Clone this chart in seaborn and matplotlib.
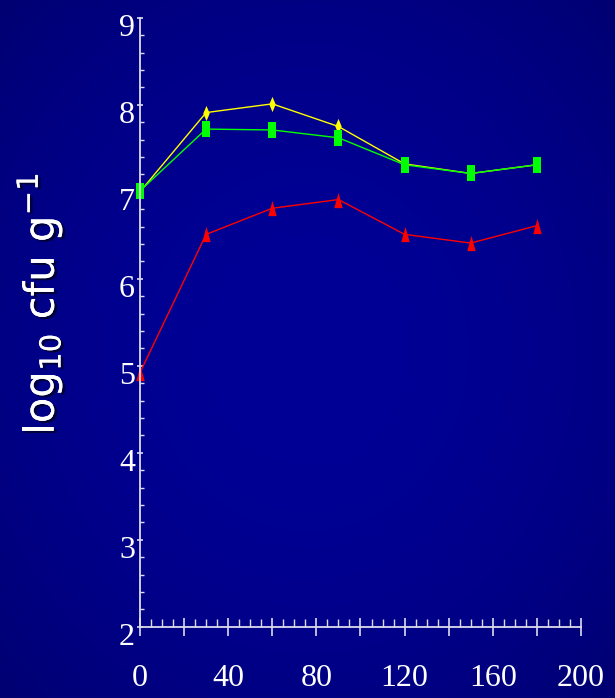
import numpy as np
import pandas as pd
import matplotlib
matplotlib.use("Agg")
import matplotlib.pyplot as plt
import matplotlib.patheffects as pe
from matplotlib.transforms import ScaledTranslation
from matplotlib.ticker import FixedLocator, MultipleLocator, FixedFormatter
import seaborn as sns

# Sampling days and log10 counts for the three series
days = [0, 30, 60, 90, 120, 150, 180]
yellow_vals = [7.00, 7.91, 8.01, 7.75, 7.32, 7.21, 7.31]
green_vals = [7.01, 7.72, 7.71, 7.62, 7.31, 7.21, 7.31]
red_vals = [4.92, 6.51, 6.81, 6.91, 6.51, 6.41, 6.61]

x_ticks = [0, 20, 40, 60, 80, 100, 120, 140, 160, 180, 200]
x_labels = ["0", "", "40", "", "80", "", "120", "", "160", "", "200"]
y_ticks = [2, 3, 4, 5, 6, 7, 8, 9]

df = pd.DataFrame({
    "day": days * 3,
    "value": red_vals + yellow_vals + green_vals,
    "series": ["red"] * 7 + ["yellow"] * 7 + ["green"] * 7,
})

sns.set_style("white")
plt.rcParams["font.family"] = ["Liberation Serif", "DejaVu Serif"]

fig = plt.figure(figsize=(6.15, 6.98), dpi=100)

# Navy background with a slightly lighter centre
bg = fig.add_axes([0, 0, 1, 1], zorder=-10)
gx, gy = np.meshgrid(np.linspace(0, 1, 300), np.linspace(0, 1, 300))
r2 = ((gx - 0.5) / 0.62) ** 2 + ((gy - 0.5) / 0.62) ** 2
blue = np.clip(150 - 28 * r2, 112, 150) / 255.0
img = np.zeros(gx.shape + (3,))
img[..., 2] = blue
bg.imshow(img, extent=[0, 1, 0, 1], aspect="auto", origin="lower")
bg.axis("off")

ax = fig.add_axes([0.2276, 0.1021, 0.7171, 0.8725])
ax.set_facecolor("none")

palette = {"red": "#ff0000", "yellow": "#ffff00", "green": "#00ff00"}
rect = [(-0.55, -1), (0.55, -1), (0.55, 1), (-0.55, 1)]
tri = [(-0.55, -1), (0.55, -1), (0, 1)]
diamond = [(0, -1), (0.42, 0), (0, 1), (-0.42, 0)]
markers = {"red": tri, "yellow": diamond, "green": rect}
sizes = {"red": 11, "yellow": 11, "green": 11.5}

for name in ["red", "yellow", "green"]:
    sub = df[df["series"] == name]
    sns.lineplot(data=sub, x="day", y="value", color=palette[name],
                 marker=markers[name], markersize=sizes[name],
                 markeredgewidth=0, linewidth=1.0, ax=ax, legend=False,
                 clip_on=False)

ax.set_xlim(0, 200)
ax.set_ylim(2, 9)
ax.set_xlabel("")
ax.set_ylabel("log$_{\\mathregular{10}}$ cfu g$^{\\mathregular{-1}}$",
              family=["DejaVu Sans"], fontsize=30, color="white",
              path_effects=[pe.withSimplePatchShadow(offset=(2, -1.5),
                                                     shadow_rgbFace="#000030",
                                                     alpha=0.9),
                            pe.Normal()])
ax.yaxis.set_label_coords(-0.17, 0.53)

spine_col = "#dcdcec"
for side in ["top", "right"]:
    ax.spines[side].set_visible(False)
for side in ["left", "bottom"]:
    ax.spines[side].set_color(spine_col)
    ax.spines[side].set_linewidth(1.3)

ax.xaxis.set_major_locator(FixedLocator(x_ticks))
ax.xaxis.set_major_formatter(FixedFormatter(x_labels))
ax.xaxis.set_minor_locator(MultipleLocator(5))
ax.yaxis.set_major_locator(FixedLocator(y_ticks))
ax.yaxis.set_minor_locator(MultipleLocator(0.2))

ax.tick_params(axis="x", which="both", bottom=True)
ax.tick_params(axis="y", which="both", left=True)
ax.tick_params(axis="x", which="major", direction="inout", length=13,
               width=1.2, color=spine_col, labelcolor="white",
               labelsize=23, pad=20)
ax.tick_params(axis="x", which="minor", direction="in", length=6,
               width=1.0, color=spine_col)
ax.tick_params(axis="y", which="major", direction="inout", length=5,
               width=1.2, color=spine_col, labelcolor="white",
               labelsize=23, pad=1)
ax.tick_params(axis="y", which="minor", direction="in", length=3,
               width=1.0, color=spine_col)

shift = ScaledTranslation(0, -0.075, fig.dpi_scale_trans)
for lab in ax.get_yticklabels():
    lab.set_transform(lab.get_transform() + shift)

fig.savefig("out.png", dpi=100)
